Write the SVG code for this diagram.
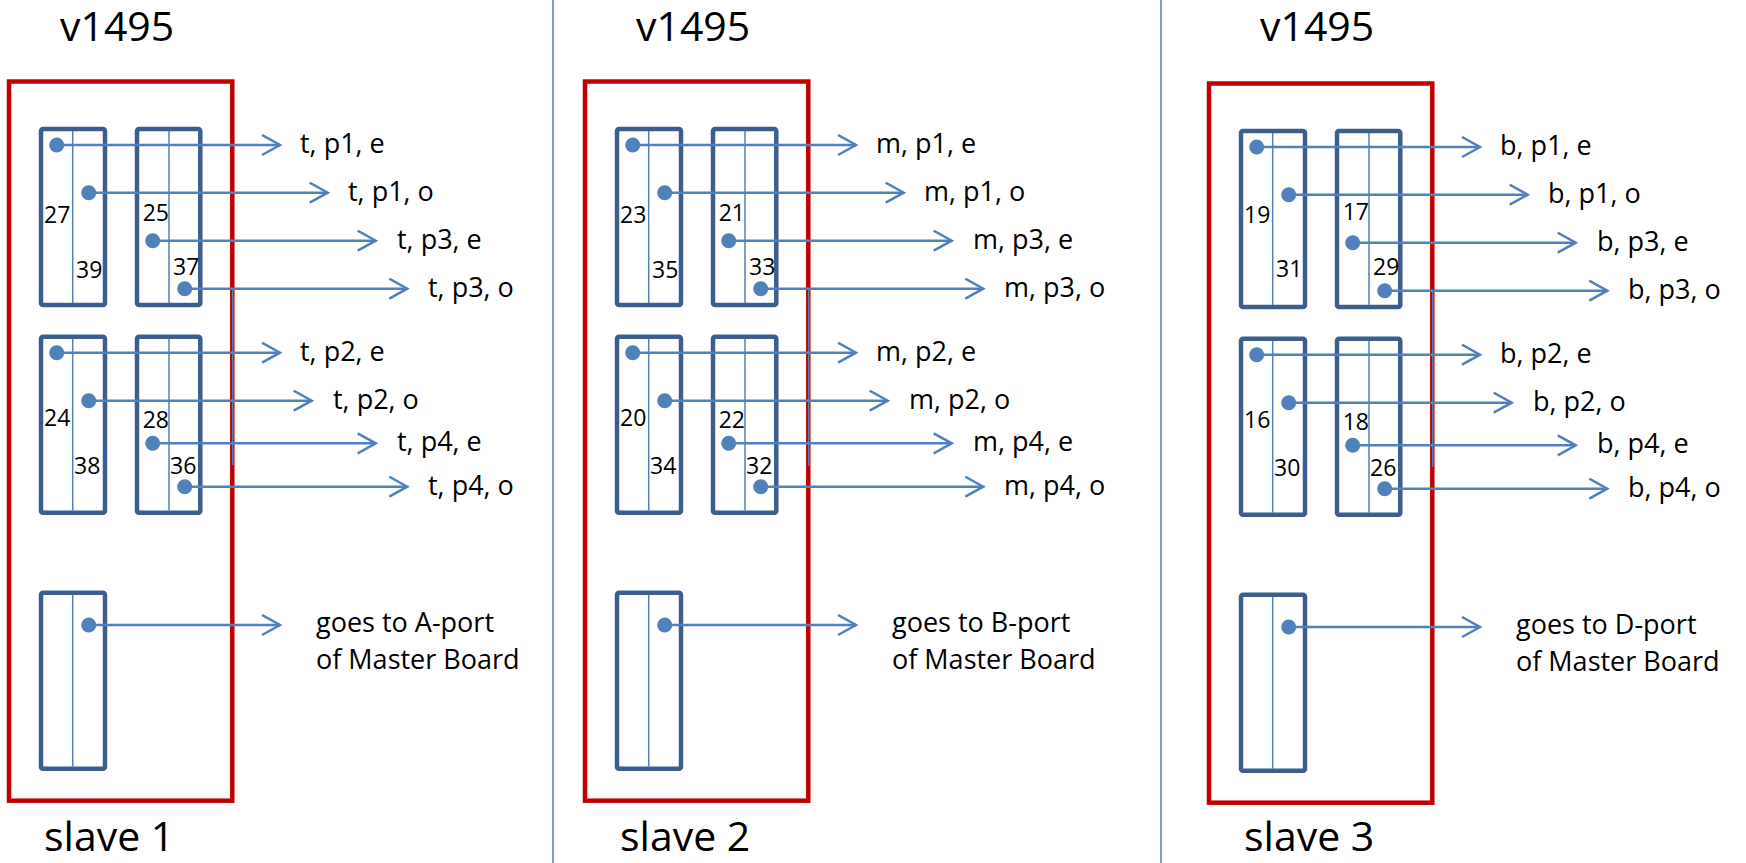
<svg xmlns="http://www.w3.org/2000/svg" width="1746" height="863" viewBox="0 0 1746 863">
<style>
.board{fill:none;stroke:#C00000;stroke-width:4.5}
.conn{fill:none;stroke:#3B5E8C;stroke-width:4.5}
.div{stroke:#4F81BD;stroke-width:1.5}
.wire{stroke:#4F81BD;stroke-width:2.5;fill:none;marker-end:url(#arr)}
.thin{stroke:#4F81BD;stroke-width:1.5}
.dot{fill:#4F81BD}
.sep{stroke:#4F81BD;stroke-width:1.5}
text{font-family:"Open Sans","Liberation Sans",sans-serif;fill:#000}
.title{font-size:41px}
.num{font-size:23px}
.lbl{font-size:27px}
</style>
<defs>
<marker id="arr" markerUnits="userSpaceOnUse" markerWidth="24" markerHeight="24" refX="19" refY="11" orient="auto">
<path d="M1,1 L19,11 L1,21" fill="none" stroke="#4F81BD" stroke-width="2.5"/>
</marker>
</defs>
<rect width="1746" height="863" fill="#fff"/>
<g id="separators">
<line class="sep" x1="553" y1="0" x2="553" y2="863"/>
<line class="sep" x1="1161" y1="0" x2="1161" y2="863"/>
</g>

<g id="slave1">
<text class="title" x="60" y="41">v1495</text>
<rect class="board" x="9" y="81.5" width="223.3" height="719.2"/>
<text class="title" x="44" y="851">slave 1</text>
<g id="s1-j1"><rect class="conn" x="41" y="129" width="64" height="176" rx="2"/><line class="div" x1="72.7" y1="131" x2="72.7" y2="303"/></g>
<g id="s1-j2"><rect class="conn" x="137" y="129" width="63.3" height="176" rx="2"/><line class="div" x1="169" y1="131" x2="169" y2="303"/></g>
<g id="s1-j3"><rect class="conn" x="41" y="336.7" width="64" height="176" rx="2"/><line class="div" x1="72.7" y1="338.7" x2="72.7" y2="510.7"/></g>
<g id="s1-j4"><rect class="conn" x="137" y="336.7" width="63.3" height="176" rx="2"/><line class="div" x1="169" y1="338.7" x2="169" y2="510.7"/></g>
<g id="s1-j5"><rect class="conn" x="41" y="592.7" width="64" height="176" rx="2"/><line class="div" x1="72.7" y1="594.7" x2="72.7" y2="766.7"/></g>
<g id="s1-nums">
<text class="num" x="44" y="223">27</text><text class="num" x="76" y="278">39</text>
<text class="num" x="142.7" y="221">25</text><text class="num" x="173" y="275">37</text>
<text class="num" x="44" y="426">24</text><text class="num" x="74" y="474">38</text>
<text class="num" x="142.7" y="428">28</text><text class="num" x="170" y="474">36</text>
</g>
<g id="s1-labels">
<text class="lbl" x="300" y="153">t, p1, e</text>
<text class="lbl" x="348" y="201">t, p1, o</text>
<text class="lbl" x="397" y="249">t, p3, e</text>
<text class="lbl" x="428" y="297">t, p3, o</text>
<text class="lbl" x="300" y="361">t, p2, e</text>
<text class="lbl" x="333" y="409">t, p2, o</text>
<text class="lbl" x="397" y="451">t, p4, e</text>
<text class="lbl" x="428" y="495">t, p4, o</text>
<text class="lbl" x="316" y="632">goes to A-port</text>
<text class="lbl" x="316" y="669">of Master Board</text>
</g>
</g>

<g id="slave2" transform="translate(576,0)">
<text class="title" x="60" y="41">v1495</text>
<rect class="board" x="9" y="81.5" width="223.3" height="719.2"/>
<text class="title" x="44" y="851">slave 2</text>
<g id="s2-j1"><rect class="conn" x="41" y="129" width="64" height="176" rx="2"/><line class="div" x1="72.7" y1="131" x2="72.7" y2="303"/></g>
<g id="s2-j2"><rect class="conn" x="137" y="129" width="63.3" height="176" rx="2"/><line class="div" x1="169" y1="131" x2="169" y2="303"/></g>
<g id="s2-j3"><rect class="conn" x="41" y="336.7" width="64" height="176" rx="2"/><line class="div" x1="72.7" y1="338.7" x2="72.7" y2="510.7"/></g>
<g id="s2-j4"><rect class="conn" x="137" y="336.7" width="63.3" height="176" rx="2"/><line class="div" x1="169" y1="338.7" x2="169" y2="510.7"/></g>
<g id="s2-j5"><rect class="conn" x="41" y="592.7" width="64" height="176" rx="2"/><line class="div" x1="72.7" y1="594.7" x2="72.7" y2="766.7"/></g>
<g id="s2-nums">
<text class="num" x="44" y="223">23</text><text class="num" x="76" y="278">35</text>
<text class="num" x="142.7" y="221">21</text><text class="num" x="173" y="275">33</text>
<text class="num" x="44" y="426">20</text><text class="num" x="74" y="474">34</text>
<text class="num" x="142.7" y="428">22</text><text class="num" x="170" y="474">32</text>
</g>
<g id="s2-labels">
<text class="lbl" x="300" y="153">m, p1, e</text>
<text class="lbl" x="348" y="201">m, p1, o</text>
<text class="lbl" x="397" y="249">m, p3, e</text>
<text class="lbl" x="428" y="297">m, p3, o</text>
<text class="lbl" x="300" y="361">m, p2, e</text>
<text class="lbl" x="333" y="409">m, p2, o</text>
<text class="lbl" x="397" y="451">m, p4, e</text>
<text class="lbl" x="428" y="495">m, p4, o</text>
<text class="lbl" x="316" y="632">goes to B-port</text>
<text class="lbl" x="316" y="669">of Master Board</text>
</g>
</g>

<g id="slave3" transform="translate(1200,2)">
<text class="title" x="60" y="39">v1495</text>
<rect class="board" x="9" y="81.5" width="223.3" height="719.2"/>
<text class="title" x="44" y="849">slave 3</text>
<g id="s3-j1"><rect class="conn" x="41" y="129" width="64" height="176" rx="2"/><line class="div" x1="72.7" y1="131" x2="72.7" y2="303"/></g>
<g id="s3-j2"><rect class="conn" x="137" y="129" width="63.3" height="176" rx="2"/><line class="div" x1="169" y1="131" x2="169" y2="303"/></g>
<g id="s3-j3"><rect class="conn" x="41" y="336.7" width="64" height="176" rx="2"/><line class="div" x1="72.7" y1="338.7" x2="72.7" y2="510.7"/></g>
<g id="s3-j4"><rect class="conn" x="137" y="336.7" width="63.3" height="176" rx="2"/><line class="div" x1="169" y1="338.7" x2="169" y2="510.7"/></g>
<g id="s3-j5"><rect class="conn" x="41" y="592.7" width="64" height="176" rx="2"/><line class="div" x1="72.7" y1="594.7" x2="72.7" y2="766.7"/></g>
<g id="s3-nums">
<text class="num" x="44" y="221">19</text><text class="num" x="76" y="275">31</text>
<text class="num" x="142.7" y="218">17</text><text class="num" x="173" y="273">29</text>
<text class="num" x="44" y="426">16</text><text class="num" x="74" y="474">30</text>
<text class="num" x="142.7" y="428">18</text><text class="num" x="170" y="474">26</text>
</g>
<g id="s3-labels">
<text class="lbl" x="300" y="153">b, p1, e</text>
<text class="lbl" x="348" y="201">b, p1, o</text>
<text class="lbl" x="397" y="249">b, p3, e</text>
<text class="lbl" x="428" y="297">b, p3, o</text>
<text class="lbl" x="300" y="361">b, p2, e</text>
<text class="lbl" x="333" y="409">b, p2, o</text>
<text class="lbl" x="397" y="451">b, p4, e</text>
<text class="lbl" x="428" y="495">b, p4, o</text>
<text class="lbl" x="316" y="632">goes to D-port</text>
<text class="lbl" x="316" y="669">of Master Board</text>
</g>
</g>

<g id="connectors">
<g transform="translate(0,0)">
<line class="thin" x1="232.7" y1="289" x2="232.7" y2="465"/>
<line class="wire" x1="56.7" y1="145" x2="280" y2="145"/>
<line class="wire" x1="88.7" y1="192.7" x2="327.7" y2="192.7"/>
<line class="wire" x1="152.7" y1="240.7" x2="375.7" y2="240.7"/>
<line class="wire" x1="184.7" y1="288.7" x2="407.3" y2="288.7"/>
<line class="wire" x1="56.7" y1="352.7" x2="280" y2="352.7"/>
<line class="wire" x1="88.7" y1="400.7" x2="311.7" y2="400.7"/>
<line class="wire" x1="152.7" y1="443.3" x2="375.7" y2="443.3"/>
<line class="wire" x1="184.7" y1="486.7" x2="407.3" y2="486.7"/>
<line class="wire" x1="88.7" y1="625" x2="280" y2="625"/>
<circle class="dot" cx="56.7" cy="145" r="7.5"/><circle class="dot" cx="88.7" cy="192.7" r="7.5"/>
<circle class="dot" cx="152.7" cy="240.7" r="7.5"/><circle class="dot" cx="184.7" cy="288.7" r="7.5"/>
<circle class="dot" cx="56.7" cy="352.7" r="7.5"/><circle class="dot" cx="88.7" cy="400.7" r="7.5"/>
<circle class="dot" cx="152.7" cy="443.3" r="7.5"/><circle class="dot" cx="184.7" cy="486.7" r="7.5"/>
<circle class="dot" cx="88.7" cy="625" r="7.5"/>
</g>
<g transform="translate(576,0)">
<line class="thin" x1="232.7" y1="289" x2="232.7" y2="466"/>
<line class="wire" x1="56.7" y1="145" x2="280" y2="145"/>
<line class="wire" x1="88.7" y1="192.7" x2="327.7" y2="192.7"/>
<line class="wire" x1="152.7" y1="240.7" x2="375.7" y2="240.7"/>
<line class="wire" x1="184.7" y1="288.7" x2="407.3" y2="288.7"/>
<line class="wire" x1="56.7" y1="352.7" x2="280" y2="352.7"/>
<line class="wire" x1="88.7" y1="400.7" x2="311.7" y2="400.7"/>
<line class="wire" x1="152.7" y1="443.3" x2="375.7" y2="443.3"/>
<line class="wire" x1="184.7" y1="486.7" x2="407.3" y2="486.7"/>
<line class="wire" x1="88.7" y1="625" x2="280" y2="625"/>
<circle class="dot" cx="56.7" cy="145" r="7.5"/><circle class="dot" cx="88.7" cy="192.7" r="7.5"/>
<circle class="dot" cx="152.7" cy="240.7" r="7.5"/><circle class="dot" cx="184.7" cy="288.7" r="7.5"/>
<circle class="dot" cx="56.7" cy="352.7" r="7.5"/><circle class="dot" cx="88.7" cy="400.7" r="7.5"/>
<circle class="dot" cx="152.7" cy="443.3" r="7.5"/><circle class="dot" cx="184.7" cy="486.7" r="7.5"/>
<circle class="dot" cx="88.7" cy="625" r="7.5"/>
</g>
<g transform="translate(1200,2)">
<line class="thin" x1="232.7" y1="289" x2="232.7" y2="465"/>
<line class="wire" x1="56.7" y1="145" x2="280" y2="145"/>
<line class="wire" x1="88.7" y1="192.7" x2="327.7" y2="192.7"/>
<line class="wire" x1="152.7" y1="240.7" x2="375.7" y2="240.7"/>
<line class="wire" x1="184.7" y1="288.7" x2="407.3" y2="288.7"/>
<line class="wire" x1="56.7" y1="352.7" x2="280" y2="352.7"/>
<line class="wire" x1="88.7" y1="400.7" x2="311.7" y2="400.7"/>
<line class="wire" x1="152.7" y1="443.3" x2="375.7" y2="443.3"/>
<line class="wire" x1="184.7" y1="486.7" x2="407.3" y2="486.7"/>
<line class="wire" x1="88.7" y1="625" x2="280" y2="625"/>
<circle class="dot" cx="56.7" cy="145" r="7.5"/><circle class="dot" cx="88.7" cy="192.7" r="7.5"/>
<circle class="dot" cx="152.7" cy="240.7" r="7.5"/><circle class="dot" cx="184.7" cy="288.7" r="7.5"/>
<circle class="dot" cx="56.7" cy="352.7" r="7.5"/><circle class="dot" cx="88.7" cy="400.7" r="7.5"/>
<circle class="dot" cx="152.7" cy="443.3" r="7.5"/><circle class="dot" cx="184.7" cy="486.7" r="7.5"/>
<circle class="dot" cx="88.7" cy="625" r="7.5"/>
</g>
</g>
</svg>
